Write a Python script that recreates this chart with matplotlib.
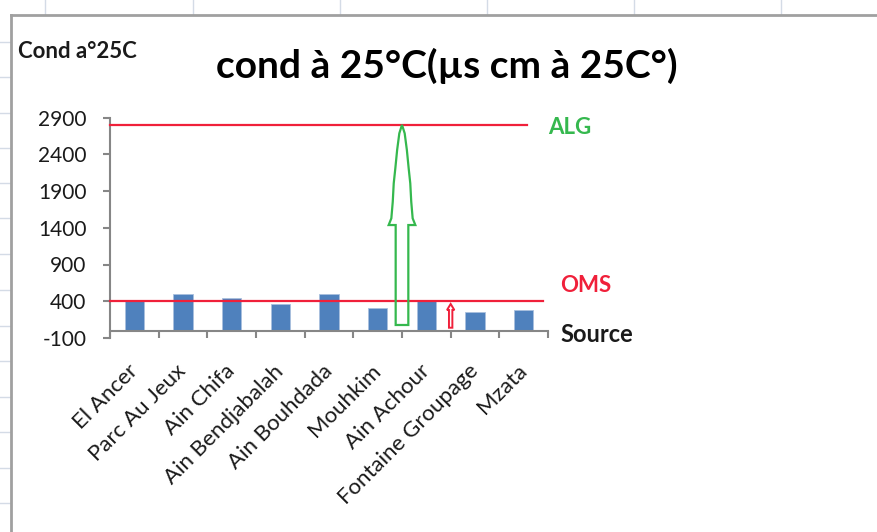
import matplotlib
matplotlib.use('Agg')
import matplotlib.pyplot as plt
from matplotlib.patches import Polygon
from matplotlib.lines import Line2D
from matplotlib.transforms import ScaledTranslation

plt.rcParams['font.family'] = ['Lato', 'DejaVu Sans']

sources = ["El Ancer", "Parc Au Jeux", "Ain Chifa", "Ain Bendjabalah", "Ain Bouhdada",
           "Mouhkim", "Ain Achour", "Fontaine Groupage", "Mzata"]
cond = [405, 500, 448, 363, 500, 310, 405, 250, 281]
alg_limit = 2800
oms_limit = 400
yticks = [-100, 400, 900, 1400, 1900, 2400, 2900]

W, H = 877, 532
BLUE = "#4f81bd"
RED = "#f0203a"
GREEN = "#35b84e"


def fx(x):
    return x / W


def fy(y):
    return 1 - y / H


fig = plt.figure(figsize=(W / 100, H / 100), dpi=100)
fig.patch.set_facecolor("white")

# ── spreadsheet grid behind the chart ─────────────────────────────────────
for gx in [45, 193, 340, 487, 634, 781]:
    fig.add_artist(Line2D([fx(gx), fx(gx)], [fy(0), fy(14)], color="#d4dbe6", lw=1))
for gy in [42, 77, 113, 148, 183, 218, 254, 290, 326, 361, 397, 432, 468, 503]:
    fig.add_artist(Line2D([fx(0), fx(10)], [fy(gy), fy(gy)], color="#d4dbe6", lw=1))
# chart frame
fig.add_artist(Line2D([fx(11), fx(W)], [fy(15), fy(15)], color="#a0a0a0", lw=2))
fig.add_artist(Line2D([fx(11), fx(11)], [fy(15), fy(H)], color="#a0a0a0", lw=2))

# ── chart ─────────────────────────────────────────────────────────────────
ax = fig.add_axes([fx(110), fy(338), (548 - 110) / W, (338 - 117.5) / H])

# spines first: set_position resets the ticks
for s in ["top", "right"]:
    ax.spines[s].set_visible(False)
ax.spines["bottom"].set_position(("data", 0))
for s in ["left", "bottom"]:
    ax.spines[s].set_color("#868686")
    ax.spines[s].set_linewidth(1.5)

x = list(range(len(sources)))
ax.bar(x, cond, width=0.4, color=BLUE, edgecolor="#a9c0de", linewidth=0.6, zorder=2)

ax.set_xlim(-0.5, len(sources) - 0.5)
ax.set_ylim(-100, 2900)
ax.set_yticks(yticks, labels=[str(v) for v in yticks])
plt.setp(ax.get_yticklabels(), fontsize=15, color="#1a1a1a")

# boundary ticks (major) and centred category labels (minor)
ax.set_xticks([i - 0.5 for i in range(len(sources) + 1)], labels=[""] * (len(sources) + 1))
ax.set_xticks(x, labels=sources, minor=True)
ax.tick_params(axis="x", which="minor", length=0, pad=19)
ax.tick_params(axis="both", which="major", direction="out", length=5,
               width=1.5, color="#868686")
ax.tick_params(axis="y", pad=12)
shift = ScaledTranslation(-7 / 100, -4 / 100, fig.dpi_scale_trans)
for lab in ax.get_xticklabels(minor=True):
    lab.set_rotation(45)
    lab.set_ha("right")
    lab.set_va("top")
    lab.set_rotation_mode("anchor")
    lab.set_fontsize(16)
    lab.set_color("#1a1a1a")
    lab.set_transform(lab.get_transform() + shift)

# limit lines
ax.plot([-0.5, 8.07], [alg_limit, alg_limit], color=RED, lw=1.6, zorder=3, clip_on=False)
ax.plot([-0.5, 8.4], [oms_limit, oms_limit], color=RED, lw=1.6, zorder=3, clip_on=False)

# green arrow up to ALG level (between Mouhkim and Ain Achour)
xc = 5.5
head = [(0.274, 1437), (0.219, 1528), (0.19, 1754), (0.17, 2004),
        (0.137, 2209), (0.10, 2458), (0.055, 2685)]
left = [(xc - 0.13, 77), (xc - 0.13, 1437)] + [(xc - w, v) for w, v in head]
pts = left + [(xc, alg_limit)] + [(2 * xc - px, v) for px, v in reversed(left)]
ax.add_patch(Polygon(pts, closed=True, fill=False, edgecolor=GREEN, lw=1.6, zorder=4))

# small red arrow (between Ain Achour and Fontaine Groupage)
xr = 6.5
rpts = [(xr - 0.035, 40), (xr - 0.035, 281), (xr - 0.075, 281), (xr, 363),
        (xr + 0.075, 281), (xr + 0.035, 281), (xr + 0.035, 40)]
ax.add_patch(Polygon(rpts, closed=True, fill=False, edgecolor=RED, lw=1.4, zorder=4))

# ── texts ─────────────────────────────────────────────────────────────────
fig.text(fx(447), fy(66), "cond à 25°C(µs cm à 25C°)", fontsize=28, fontweight="bold",
         ha="center", va="center", color="black")
fig.text(fx(18), fy(51), "Cond a°25C", fontsize=16, fontweight="bold",
         ha="left", va="center", color="#1a1a1a")
fig.text(fx(548), fy(128), "ALG", fontsize=16, fontweight="bold",
         ha="left", va="center", color=GREEN)
fig.text(fx(560), fy(285), "OMS", fontsize=16, fontweight="bold",
         ha="left", va="center", color=RED)
fig.text(fx(560), fy(334), "Source", fontsize=17, fontweight="bold",
         ha="left", va="center", color="#1a1a1a")

fig.savefig("out.png", dpi=100)
